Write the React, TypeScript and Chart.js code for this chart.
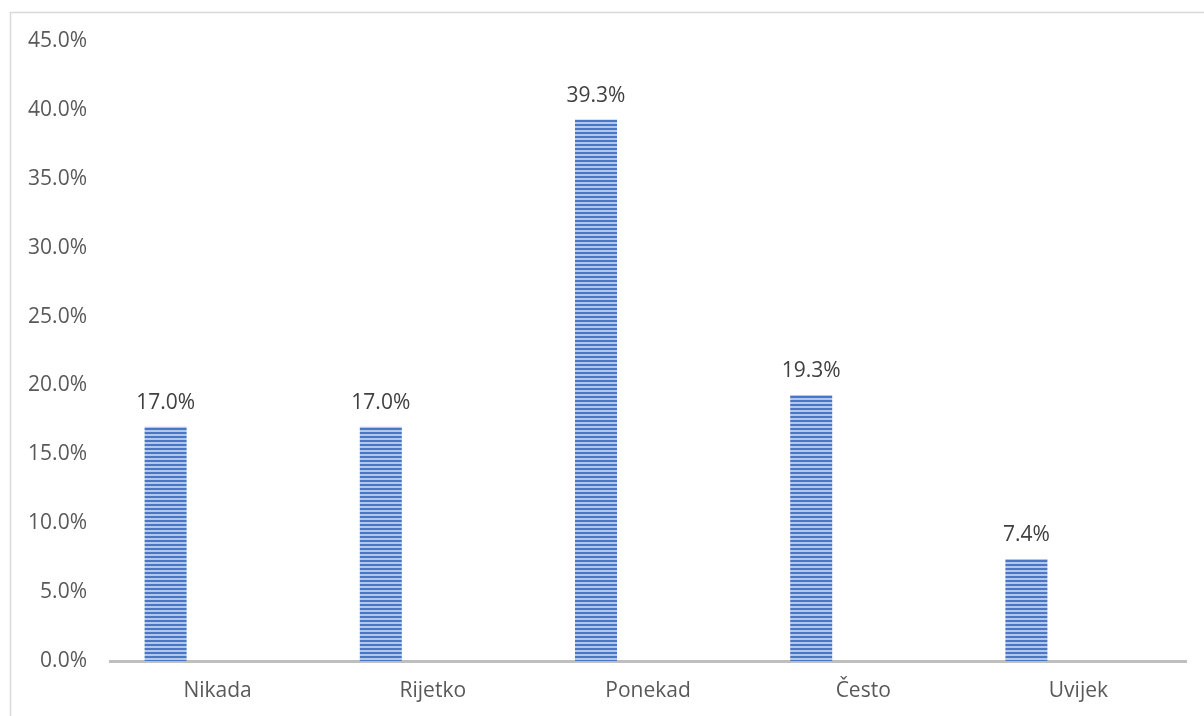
import React, { useEffect, useRef } from "react";
import { Chart, registerables } from "chart.js";

Chart.register(...registerables);

const categories = ["Nikada", "Rijetko", "Ponekad", "Često", "Uvijek"];
const values = [17.0, 17.0, 39.3, 19.3, 7.4];
const emptySeries = [null, null, null, null, null];
const yTicks = [0, 5, 10, 15, 20, 25, 30, 35, 40, 45];

const FONT = "'Open Sans', 'Noto Sans', sans-serif";
const TEXT = "#595959";

function makePattern(): CanvasPattern | string {
  const c = document.createElement("canvas");
  c.width = 4;
  c.height = 4;
  const g = c.getContext("2d");
  if (!g) return "#4472c4";
  g.fillStyle = "#4a76c6";
  g.fillRect(0, 0, 4, 2);
  g.fillStyle = "#b4c7ea";
  g.fillRect(0, 2, 4, 2);
  const p = g.createPattern(c, "repeat");
  return p || "#4472c4";
}

export default function App() {
  const ref = useRef<HTMLCanvasElement | null>(null);

  useEffect(() => {
    if (!ref.current) return;
    const pattern = makePattern();

    const framePlugin = {
      id: "frame",
      beforeDraw(chart: any) {
        const ctx = chart.ctx;
        ctx.save();
        ctx.fillStyle = "#ffffff";
        ctx.fillRect(0, 0, chart.width, chart.height);
        ctx.strokeStyle = "#d9d9d9";
        ctx.lineWidth = 1.5;
        ctx.strokeRect(10.5, 12.5, chart.width + 20, chart.height + 20);
        ctx.restore();
      },
    };

    const labelPlugin = {
      id: "valueLabels",
      afterDatasetsDraw(chart: any) {
        const ctx = chart.ctx;
        const meta = chart.getDatasetMeta(0);
        ctx.save();
        ctx.font = `21px ${FONT}`;
        ctx.fillStyle = "#404040";
        ctx.textAlign = "center";
        ctx.textBaseline = "middle";
        meta.data.forEach((bar: any, i: number) => {
          const v = values[i];
          ctx.fillText(v.toFixed(1) + "%", bar.x, bar.y - 24);
        });
        ctx.restore();
      },
    };

    const chart = new Chart(ref.current, {
      type: "bar",
      data: {
        labels: categories,
        datasets: [
          {
            data: values,
            backgroundColor: pattern as any,
            borderWidth: 0,
            barPercentage: 0.404,
            categoryPercentage: 0.9665,
          },
          {
            data: emptySeries as any,
            backgroundColor: "rgba(0,0,0,0)",
            barPercentage: 0.404,
            categoryPercentage: 0.9665,
          },
        ],
      },
      options: {
        responsive: false,
        animation: false,
        devicePixelRatio: 1,
        layout: { padding: { top: 41, right: 18, left: 0, bottom: 0 } },
        plugins: {
          legend: { display: false },
          tooltip: { enabled: false },
        },
        scales: {
          x: {
            grid: { display: false, drawTicks: false },
            border: { display: true, color: "#bfbfbf", width: 3 },
            ticks: {
              color: TEXT,
              font: { family: FONT, size: 21 },
              padding: 17,
              maxRotation: 0,
            },
            afterFit(scale: any) {
              scale.height = 55;
            },
          },
          y: {
            min: 0,
            max: 45,
            afterBuildTicks(scale: any) {
              scale.ticks = yTicks.map((v) => ({ value: v }));
            },
            grid: { display: false, drawTicks: false },
            border: { display: false },
            ticks: {
              color: TEXT,
              font: { family: FONT, size: 21 },
              padding: 23,
              callback: (v: any) => Number(v).toFixed(1) + "%",
            },
            afterFit(scale: any) {
              scale.width = 110;
            },
          },
        },
      },
      plugins: [framePlugin, labelPlugin],
    });

    return () => chart.destroy();
  }, []);

  return (
    <div style={{ position: "absolute", left: 0, top: 0 }}>
      <canvas ref={ref} width={1204} height={716} style={{ display: "block" }} />
    </div>
  );
}
